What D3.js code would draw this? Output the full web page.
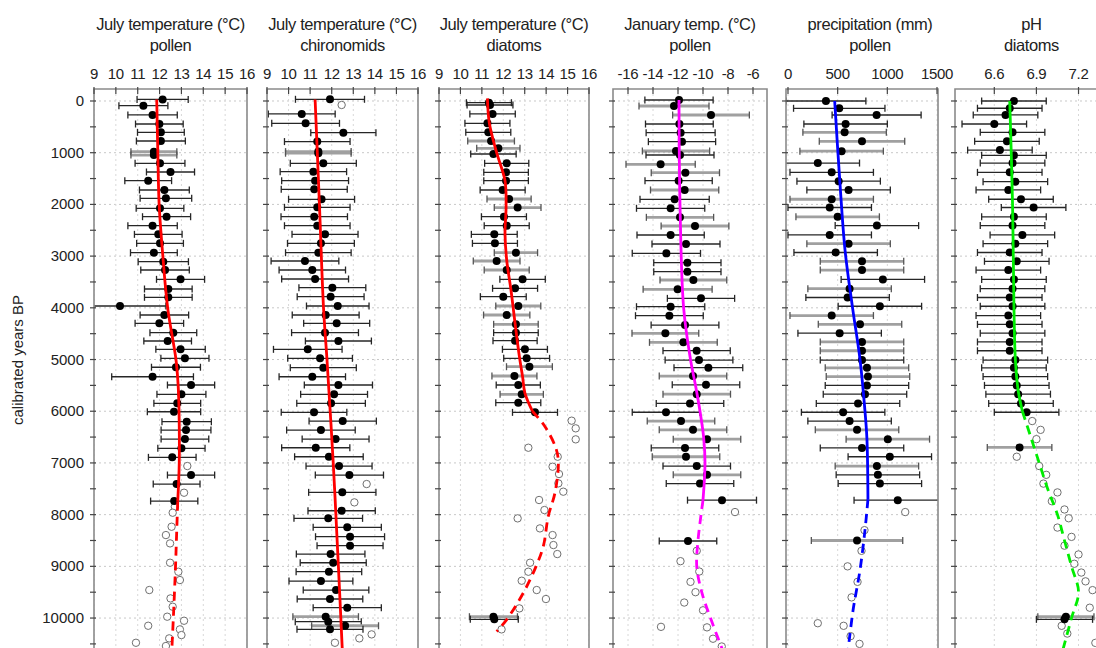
<!DOCTYPE html>
<html><head><meta charset="utf-8">
<script src="https://cdn.jsdelivr.net/npm/d3@7"></script>
<style>body{margin:0;background:#fff;} text{font-family:"Liberation Sans",Arial,sans-serif;fill:#222;}</style>
</head><body><svg id="c" width="1096" height="648"></svg>
<script>
// ---------- DATA ----------
const yearTicks = [0,1000,2000,3000,4000,5000,6000,7000,8000,9000,10000];
const yMinorTicks = d3.range(0, 10501, 500);
const titles1 = ["July temperature (\u00B0C)","July temperature (\u00B0C)","July temperature (\u00B0C)","January temp. (\u00B0C)","precipitation (mm)","pH"];
const titles2 = ["pollen","chironomids","diatoms","pollen","pollen","diatoms"];
const xTicks1 = [9,10,11,12,13,14,15,16];
const xTicks4 = [-16,-14,-12,-10,-8,-6];
const xTicks5 = [0,500,1000,1500];
const xTicks6 = [6.6,6.9,7.2];

// points: [year, value, half error, grey bar?]
const p1Points = [[-30,12.14,1.17,0],[90,11.26,1.12,0],[270,11.68,1.13,0],[445,11.99,1.09,0],[606,12.06,1.07,0],[774,12.06,1.12,0],[980,11.74,1.05,1],[1045,11.74,1.05,1],[1205,12.02,1.14,0],[1373,12.5,1.1,0],[1541,11.48,1.07,0],[1721,12.22,1.14,0],[1882,12.29,1.18,0],[2075,12.02,1.09,0],[2238,12.32,1.1,0],[2412,11.68,1.13,0],[2579,11.94,1.09,0],[2753,12.02,1.07,0],[2934,11.74,1.07,0],[3108,12.17,1.15,0],[3269,12.25,1.11,0],[3449,12.96,1.1,0],[3636,12.4,1.09,0],[3797,12.4,1.09,0],[3965,10.19,2.1,0],[4139,12.22,1.11,0],[4300,11.99,1.11,0],[4481,12.63,1.07,0],[4642,12.37,1.09,0],[4803,12.96,1.13,0],[4977,13.16,1.1,0],[5149,12.75,1.12,0],[5333,11.68,1.87,0],[5493,13.44,1.08,0],[5673,13.0,1.12,0],[5847,12.81,1.07,0],[6010,12.66,1.22,0],[6203,13.24,1.13,0],[6364,13.21,1.14,0],[6538,13.16,1.09,0],[6718,13.0,1.08,0],[6892,12.58,1.09,0],[7234,13.44,1.08,0],[7408,12.78,1.07,0],[7737,12.67,1.08,0]];
const p1Open = [[7060,13.27],[7576,13.12],[7847,12.7],[7963,12.6],[8234,12.55],[8395,12.29],[8556,12.48],[8930,12.48],[9104,12.86],[9265,12.93],[9458,11.53],[9620,12.5],[9781,12.6],[9974,12.35],[10052,13.12],[10149,11.48],[10219,12.93],[10329,13.0],[10393,12.44],[10478,10.92],[10541,12.29]];
const p1Solid = [[-30,11.87],[1000,11.92],[2000,11.98],[3000,12.15],[4000,12.37],[5000,12.75],[5500,12.85],[6000,12.89],[7000,12.9],[7750,12.83]];
const p1Dashed = [[7750,12.83],[8500,12.77],[9000,12.73],[10000,12.63],[10700,12.55]];

const p2Points = [[-33,11.92,1.6,0],[251,10.61,1.55,0],[431,10.79,1.57,0],[612,12.54,1.51,0],[785,11.33,1.52,0],[979,11.38,1.52,1],[1010,11.38,1.52,1],[1205,11.61,1.53,0],[1367,11.15,1.54,0],[1541,11.23,1.55,0],[1708,11.19,1.53,0],[1901,11.53,1.53,0],[2056,11.33,1.52,0],[2238,11.19,1.54,0],[2412,11.33,1.52,0],[2579,11.69,1.53,0],[2753,11.5,1.55,0],[2934,11.38,1.52,0],[3095,10.76,1.57,0],[3269,11.1,1.54,0],[3443,11.23,1.55,0],[3610,12.03,1.55,0],[3784,11.95,1.55,0],[3965,12.28,1.45,0],[4139,11.72,1.55,0],[4300,12.23,1.53,0],[4481,11.69,1.55,0],[4642,12.31,1.53,0],[4803,10.89,1.59,0],[4977,11.46,1.5,0],[5157,11.61,1.53,0],[5333,11.1,1.54,0],[5493,12.31,1.58,0],[5673,12.11,1.55,0],[5847,11.97,1.59,0],[6022,11.18,1.52,0],[6190,12.51,1.56,0],[6364,11.5,1.59,0],[6538,12.18,1.55,0],[6706,11.26,1.58,0],[6880,11.87,1.59,0],[7060,12.34,1.53,0],[7234,12.82,1.58,0],[7569,12.49,1.56,0],[7925,12.46,1.56,0],[8072,11.84,1.59,0],[8246,12.72,1.58,0],[8427,12.85,1.6,0],[8601,12.85,1.53,0],[8762,11.95,1.59,0],[8930,12.07,1.53,0],[9104,11.87,1.52,0],[9284,11.5,1.48,0],[9458,12.2,1.52,0],[9632,11.92,1.52,0],[9800,12.72,1.58,0],[9974,11.72,1.52,1],[10070,11.84,1.53,0],[10149,12.62,1.55,1],[10219,11.92,1.53,0]];
const p2Open = [[77,12.46],[7408,13.62],[7763,13.05],[10316,13.85],[10393,13.28],[10478,12.15]];
const p2Solid = [[-30,11.23],[2000,11.43],[4000,11.62],[5000,11.78],[7000,12.07],[9000,12.31],[10700,12.5]];
const p2Dashed = [];

const p3Points = [[33,11.33,1.05,0],[77,11.38,1.07,0],[251,11.5,1.06,0],[431,11.26,1.05,0],[606,11.3,1.05,0],[774,11.43,1.09,1],[916,11.77,1.01,1],[1025,11.54,1.06,0],[1205,12.16,1.03,0],[1379,12.13,1.04,0],[1541,12.13,1.04,0],[1721,11.97,1.05,0],[1895,12.27,1.03,1],[2062,12.67,1.09,1],[2238,12.03,1.05,0],[2412,12.16,1.05,0],[2579,11.58,1.07,0],[2753,11.61,1.05,0],[2934,12.59,1.01,1],[3095,11.69,1.09,1],[3269,12.16,1.05,1],[3449,12.9,1.06,0],[3623,12.55,1.05,0],[3784,12.0,1.07,0],[3965,12.7,1.05,1],[4139,12.16,1.08,1],[4319,12.59,1.04,1],[4481,12.59,1.04,0],[4636,12.55,1.03,0],[4803,13.01,1.05,0],[4977,13.09,1.07,0],[5139,13.22,1.07,1],[5319,12.52,1.05,1],[5493,12.7,1.03,0],[5673,12.86,1.01,1],[5834,12.7,1.05,0],[6022,13.48,1.05,0],[9974,11.54,1.12,1],[10025,11.58,1.12,0]];
const p3Open = [[6183,15.19],[6331,15.38],[6544,15.38],[6706,13.17],[6880,14.54],[7073,14.3],[7215,14.6],[7395,14.57],[7556,14.8],[7717,13.67],[7911,13.92],[8072,12.67],[8266,13.71],[8395,14.3],[8588,14.34],[8762,14.52],[8930,13.25],[9104,13.17],[9278,12.86],[9458,13.56],[9632,13.99],[9813,12.75],[10219,11.92]];
const p3Solid = [[-50,11.26],[431,11.35],[1000,11.69],[1540,12.08],[2050,12.13],[2560,12.08],[3080,12.16],[3660,12.36],[4300,12.55],[4940,12.75],[5330,12.9],[5650,13.01],[6000,13.36]];
const p3Dashed = [[6000,13.36],[6300,13.95],[6720,14.46],[7000,14.57],[7580,14.41],[8030,14.1],[8610,13.87],[9000,13.53],[9510,12.94],[10030,12.16],[10260,11.69]];

const p4Points = [[-19,-11.92,2.73,0],[97,-12.32,2.8,1],[271,-9.36,3.07,1],[445,-11.89,2.71,0],[612,-11.79,2.76,0],[787,-11.68,2.69,0],[967,-12.16,2.69,1],[1044,-11.84,2.72,0],[1224,-13.39,2.77,1],[1387,-11.41,2.73,1],[1541,-11.95,2.69,0],[1721,-11.47,2.73,1],[1901,-12.27,2.77,0],[2075,-12.59,2.73,0],[2250,-11.84,2.69,1],[2418,-10.64,2.71,1],[2592,-12.59,2.69,0],[2766,-11.36,2.72,0],[2947,-12.93,2.73,0],[3127,-11.25,2.69,0],[3301,-11.25,2.69,0],[3462,-10.77,2.67,1],[3643,-12.03,2.76,1],[3817,-10.16,2.69,0],[3978,-12.59,2.73,0],[4152,-12.69,2.71,0],[4333,-11.44,2.71,0],[4494,-13.01,2.67,1],[4668,-11.57,2.71,1],[4829,-10.51,2.69,0],[5010,-10.32,2.71,0],[5157,-9.57,2.75,0],[5320,-10.8,2.7,1],[5490,-9.76,2.7,0],[5670,-10.5,2.7,1],[5850,-11.04,2.7,0],[6020,-12.96,2.7,0],[6190,-11.76,2.7,1],[6360,-10.8,2.7,1],[6540,-9.68,2.7,1],[6710,-11.44,2.7,0],[6880,-11.36,2.7,1],[7060,-10.5,2.7,0],[7230,-9.68,2.7,1],[7400,-10.24,2.7,0],[7720,-8.48,2.76,0],[8510,-11.2,2.3,0]];
const p4Open = [[7950,-7.44],[8700,-10.5],[8900,-11.8],[9100,-10.3],[9300,-11.0],[9500,-10.6],[9700,-11.5],[9850,-10.0],[10170,-13.36],[10180,-9.68],[10400,-9.2],[10550,-8.5]];
const p4Solid = [[-19,-11.92],[2000,-11.84],[4000,-11.55],[5000,-11.0],[5500,-10.6],[6000,-10.24],[6500,-9.95],[7000,-9.84],[7720,-10.0]];
const p4Dashed = [[7720,-10.0],[8500,-10.4],[9000,-10.5],[9500,-10.1],[10000,-9.4],[10700,-8.3]];

const p5Points = [[0,382,402,0],[141,516,460,0],[271,892,448,0],[445,580,420,0],[606,570,420,1],[780,745,430,1],[970,540,420,1],[1200,300,420,0],[1380,440,420,0],[1550,510,420,0],[1720,610,420,0],[1900,440,420,1],[2060,420,420,0],[2240,500,420,1],[2410,895,420,0],[2590,420,420,0],[2760,610,420,1],[2930,480,420,0],[3100,745,420,1],[3270,745,420,1],[3450,955,420,0],[3630,620,420,1],[3800,600,420,0],[3970,925,420,0],[4150,440,420,1],[4320,725,420,1],[4490,520,420,0],[4660,745,420,1],[4830,745,420,1],[5010,745,420,0],[5160,795,420,1],[5330,805,420,1],[5500,795,420,0],[5670,775,420,0],[5850,705,420,0],[6020,555,420,0],[6190,620,420,0],[6360,695,420,1],[6540,1005,420,1],[6710,745,420,0],[6880,1025,420,0],[7060,895,420,1],[7230,905,420,0],[7400,925,420,0],[7720,1105,440,0],[8500,695,460,1]];
const p5Open = [[7950,1180],[8300,770],[8700,740],[9000,600],[9300,700],[9600,640],[10100,300],[10150,560],[10350,630],[10500,720]];
const p5Solid = [[0,470],[1500,520],[2900,575],[4000,650],[5000,725],[6000,775],[6550,795],[7700,805]];
const p5Dashed = [[7700,805],[8300,775],[9070,725],[9850,655],[10700,600]];

const p6Points = [[0,6.74,0.23,0],[140,6.71,0.23,0],[270,6.68,0.23,0],[445,6.6,0.23,0],[606,6.73,0.23,0],[780,6.69,0.23,0],[950,6.64,0.23,0],[1050,6.74,0.23,0],[1200,6.73,0.23,0],[1380,6.71,0.23,0],[1560,6.75,0.23,0],[1720,6.7,0.23,0],[1900,6.79,0.23,0],[2060,6.88,0.23,0],[2240,6.74,0.23,0],[2410,6.73,0.23,0],[2590,6.8,0.23,0],[2760,6.75,0.23,0],[2930,6.71,0.23,0],[3100,6.76,0.23,0],[3270,6.7,0.23,0],[3450,6.74,0.23,0],[3630,6.73,0.23,0],[3800,6.71,0.23,0],[3970,6.73,0.23,0],[4150,6.7,0.23,0],[4320,6.71,0.23,0],[4490,6.73,0.23,0],[4660,6.71,0.23,0],[4830,6.71,0.23,0],[5010,6.75,0.23,0],[5160,6.74,0.23,0],[5330,6.75,0.23,0],[5500,6.76,0.23,0],[5670,6.77,0.23,0],[5850,6.79,0.23,0],[6020,6.83,0.23,0],[6700,6.78,0.23,1],[9974,7.11,0.2,1],[10025,7.1,0.2,0]];
const p6Open = [[6190,6.87],[6360,6.93],[6540,6.9],[6880,6.76],[7060,6.92],[7230,6.97],[7400,6.95],[7570,7.05],[7740,7.01],[7900,7.1],[8070,7.13],[8250,7.05],[8430,7.15],[8600,7.1],[8770,7.2],[8950,7.17],[9120,7.22],[9290,7.25],[9460,7.3],[9630,7.36],[9800,7.28],[10150,7.08],[10300,7.12],[10480,7.32]];
const p6Solid = [[0,6.71],[2000,6.73],[4000,6.74],[5000,6.75],[5600,6.77],[6000,6.8]];
const p6Dashed = [[6000,6.8],[6500,6.86],[7000,6.92],[7500,6.98],[8000,7.05],[8500,7.1],[9000,7.15],[9500,7.2],[10000,7.15],[10700,7.08]];

// ---------- LAYOUT ----------
const panels = [
  {pts:p1Points, open:p1Open, solid:p1Solid, dashed:p1Dashed, domain:[9,16], ticks:xTicks1, left:94, right:247, color:"#ff0000", tdx:0},
  {pts:p2Points, open:p2Open, solid:p2Solid, dashed:p2Dashed, domain:[9,16], ticks:xTicks1, left:267, right:418, color:"#ff0000", tdx:0},
  {pts:p3Points, open:p3Open, solid:p3Solid, dashed:p3Dashed, domain:[9,16], ticks:xTicks1, left:439, right:589, color:"#ff0000", tdx:0},
  {pts:p4Points, open:p4Open, solid:p4Solid, dashed:p4Dashed, domain:[-17.2,-4.88], ticks:xTicks4, left:613, right:767, color:"#ff00ff", tdx:0},
  {pts:p5Points, open:p5Open, solid:p5Solid, dashed:p5Dashed, domain:[-20,1510], ticks:xTicks5, left:786, right:938, color:"#0000ff", tdx:8},
  {pts:p6Points, open:p6Open, solid:p6Solid, dashed:p6Dashed, domain:[6.32,7.41], ticks:xTicks6, left:955, right:1108, color:"#00ee00", tdx:0}
];
const plotTop = 89, plotBottom = 662;
const svg = d3.select("#c");
const y = d3.scaleLinear().domain([-232, 10850]).range([plotTop, plotBottom]);

// y axis labels
svg.append("g").selectAll("text").data(yearTicks).join("text")
  .attr("x", 84).attr("y", d => y(d) + 5).attr("text-anchor","end")
  .attr("font-size", 15).text(d => d);
svg.append("text").attr("transform","translate(23,360) rotate(-90)")
  .attr("text-anchor","middle").attr("font-size",15).text("calibrated years BP");

panels.forEach((p, i) => {
  const x = d3.scaleLinear().domain(p.domain).range([p.left, p.right]);
  const g = svg.append("g");
  const cid = "clip" + i;
  svg.append("clipPath").attr("id", cid).append("rect")
    .attr("x", p.left).attr("y", plotTop).attr("width", p.right - p.left).attr("height", plotBottom - plotTop);
  const inner = g.append("g").attr("clip-path", `url(#${cid})`);

  // grid
  inner.selectAll("line.hg").data(yearTicks).join("line")
    .attr("x1", p.left).attr("x2", p.right).attr("y1", d => y(d)).attr("y2", d => y(d))
    .attr("stroke", "#c8c8c8").attr("stroke-dasharray", "2,3").attr("stroke-width", 1);
  inner.selectAll("line.vg").data(p.ticks).join("line")
    .attr("x1", d => x(d)).attr("x2", d => x(d)).attr("y1", plotTop).attr("y2", plotBottom)
    .attr("stroke", "#d8d8d8").attr("stroke-dasharray", "2,3").attr("stroke-width", 1);

  // error bars
  const eb = inner.selectAll("g.eb").data(p.pts).join("g");
  eb.append("line")
    .attr("x1", d => x(d[1] - d[2])).attr("x2", d => x(d[1] + d[2]))
    .attr("y1", d => y(d[0])).attr("y2", d => y(d[0]))
    .attr("stroke", d => d[3] ? "#a0a0a0" : "#262626")
    .attr("stroke-width", d => d[3] ? 2.8 : 1.3);
  eb.selectAll("line.cap").data(d => [[d[1] - d[2], d[0], d[3]], [d[1] + d[2], d[0], d[3]]]).join("line")
    .attr("x1", d => x(d[0])).attr("x2", d => x(d[0]))
    .attr("y1", d => y(d[1]) - 3.5).attr("y2", d => y(d[1]) + 3.5)
    .attr("stroke", d => d[2] ? "#555" : "#262626").attr("stroke-width", 1.3);

  // open circles
  inner.selectAll("circle.o").data(p.open).join("circle")
    .attr("cx", d => x(d[1])).attr("cy", d => y(d[0])).attr("r", 3.7)
    .attr("fill", "#fff").attr("stroke", "#707070").attr("stroke-width", 1);
  // filled points
  inner.selectAll("circle.f").data(p.pts).join("circle")
    .attr("cx", d => x(d[1])).attr("cy", d => y(d[0])).attr("r", 4)
    .attr("fill", "#000");

  // lines
  const line = d3.line().x(d => x(d[1])).y(d => y(d[0])).curve(d3.curveCatmullRom);
  if (p.solid.length) inner.append("path").attr("d", line(p.solid)).attr("fill","none")
    .attr("stroke", p.color).attr("stroke-width", 2.8);
  if (p.dashed.length) inner.append("path").attr("d", line(p.dashed)).attr("fill","none")
    .attr("stroke", p.color).attr("stroke-width", 2.8).attr("stroke-dasharray","9,6");

  // frame
  g.append("path").attr("d", `M${p.left},${plotBottom}V${plotTop}H${p.right}V${plotBottom}`)
    .attr("fill","none").attr("stroke","#8a8a8a").attr("stroke-width",1.6);

  // top ticks and labels
  g.selectAll("line.xt").data(p.ticks).join("line")
    .attr("x1", d => x(d)).attr("x2", d => x(d)).attr("y1", plotTop - 2).attr("y2", plotTop + 5)
    .attr("stroke", "#444").attr("stroke-width", 1.2);
  g.selectAll("text.xl").data(p.ticks).join("text")
    .attr("x", d => x(d)).attr("y", 79).attr("text-anchor","middle").attr("font-size",15)
    .attr("letter-spacing", -0.3).text(d => d);
  // left ticks
  g.selectAll("line.yt").data(yMinorTicks).join("line")
    .attr("x1", p.left - 4).attr("x2", p.left + 2).attr("y1", d => y(d)).attr("y2", d => y(d))
    .attr("stroke", "#444").attr("stroke-width", 1.2);

  // titles
  const cx = (p.left + p.right) / 2 + p.tdx;
  g.append("text").attr("x", cx).attr("y", 30).attr("text-anchor","middle").attr("font-size",16.5)
    .attr("letter-spacing", -0.4).text(titles1[i]);
  g.append("text").attr("x", cx).attr("y", 51).attr("text-anchor","middle").attr("font-size",16.5)
    .attr("letter-spacing", -0.4).text(titles2[i]);
});
</script></body></html>
